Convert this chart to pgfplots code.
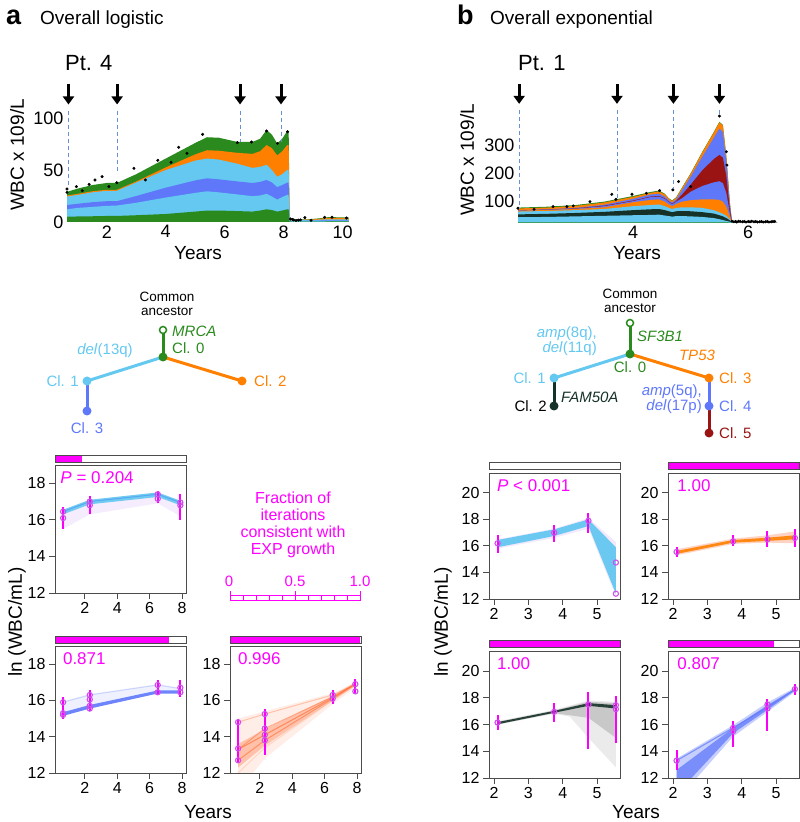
\documentclass[border=0pt]{standalone}
\usepackage{fontspec}
\setmainfont{Liberation Sans}
\usepackage{pgfplots}
\pgfplotsset{compat=1.18}
\usepackage{pgfplotstable}
\usetikzlibrary{arrows.meta}

\definecolor{cgreen}{RGB}{42,138,30}
\definecolor{corange}{RGB}{255,128,0}
\definecolor{clblue}{RGB}{100,200,240}
\definecolor{cblue}{RGB}{95,120,250}
\definecolor{cred}{RGB}{155,20,20}
\definecolor{cdark}{RGB}{22,50,40}
\definecolor{cmag}{RGB}{255,0,255}
\definecolor{cdash}{RGB}{100,145,215}
\definecolor{cpurp}{RGB}{170,110,240}
\definecolor{corange2}{RGB}{255,110,55}
\definecolor{cmk}{RGB}{205,80,235}
\definecolor{ceb}{RGB}{250,0,250}

\newcommand{\fs}[1]{\fontsize{#1}{#1}\selectfont}

\pgfplotsset{
 topax/.style={scale only axis, axis line style={draw=none}, major tick length=0pt,
   tick style={draw=none}, clip mode=individual,
   ticklabel style={font=\fs{18}}, /pgf/number format/assume math mode=true},
 smallax/.style={scale only axis, width=131pt, clip mode=individual,
   axis line style={black!70, line width=0.9pt}, tick style={black!70, line width=0.9pt},
   tick align=outside, major tick length=6pt, xtick pos=left, ytick pos=left,
   ticklabel style={font=\fs{16}}, /pgf/number format/assume math mode=true, ymin=12},
 smallA/.style={smallax, xmin=0.15, xmax=8.25, ymax=19, ytick={12,14,16,18}, xtick={2,4,6,8}, height=127pt},
 smallB/.style={smallax, xmin=1.85, xmax=5.67, ymax=21.5, ytick={12,14,16,18,20}, xtick={2,3,4,5}, height=126pt},
}

\newcommand{\eb}[3]{\addplot[forget plot, color=ceb, line width=2pt, line cap=butt, mark=none] coordinates {(#1,#2)(#1,#3)};}
\newcommand{\pts}[1]{\addplot[forget plot, only marks, mark=o, mark size=2.6pt, draw=cmk, line width=1.1pt] coordinates {#1};}
\newcommand{\arrA}[2]{%
  \draw[cdash, line width=1pt, dash pattern=on 4pt off 3pt] (axis cs:#1,107) -- (axis cs:#1,#2);
  \draw[-{Triangle[width=11pt,length=8pt]}, line width=3pt] (axis cs:#1,133) -- (axis cs:#1,113);}
\newcommand{\arrB}[2]{%
  \draw[cdash, line width=1pt, dash pattern=on 4pt off 3pt] (axis cs:#1,424) -- (axis cs:#1,#2);
  \draw[-{Triangle[width=11pt,length=8pt]}, line width=3pt] (axis cs:#1,515) -- (axis cs:#1,445);}

\pgfplotstableread{
x T O L B Bb Gb
0.65 29 25.5 24.5 16.3 12.2 5.1
1.0 32 27 26 17.5 13.5 5.3
1.5 35.5 29.5 28.5 19 14.5 5.5
2.0 37.5 31 30 20 15.5 5.8
2.34 37.5 31 30 20 15.8 5.8
3.0 46 39 38 25 18.5 6.5
4.0 61 52.5 50 33 23.5 7.7
5.0 76 65 59 40 28 10
5.4 81.5 69 61 42 29.5 11
5.8 81 68.5 60 41 28.5 11
6.43 77 66.5 56 39 26.5 10.5
6.94 77 65.5 52 37.5 24.8 10
7.2 80 68 53 38.5 25.5 11
7.42 88.5 74 55 40.4 27 12.2
7.6 84 71 50 38 24.5 11.5
7.78 75.6 64 43.5 33.5 21.5 10
7.95 80 68 46 35.5 24 11
8.12 87.5 74 50 37.8 26 12.2
8.17 87.5 74 50 37.8 26 12.2
8.2 2.5 2 1.6 1.1 0.7 0.3
8.8 2.5 2.2 1.8 1.2 0.8 0.4
9.2 3.5 3 2.2 1.4 0.9 0.4
9.5 4.6 4 2.6 1.6 1.0 0.5
10.2 4.5 3.8 2.5 1.5 1.0 0.5
}\tabA

\pgfplotstableread{
x G O1 B1 R1 B2 O2 L1 K1 L2 G2
2.0 79 76 70 69.3 68.7 68 65 55 45 27
2.5 82 79 73 72 71.3 70.5 67 57 46 27
3.0 88 85 78 76.5 75.5 74 70 60 48 27
3.5 100 97 89 86 84 80 74 64 50 27
4.0 120 117 110 104 102 98 84 70 52 27
4.3 134 131 125 118 116 106 88 73 53 27
4.45 139 136 128 120 118 108 90 74 54 27
4.55 128 126 118 112 110 100 84 70 51 27
4.62 112 110 104 100 98 90 78 66 49 27
4.68 104 102 97 93 91 84 74 63 47 27
4.75 116 114 108 103 100 92 78 66 49 27
4.85 150 148 140 125 112 100 80 67 49 27
5.0 200 198 188 160 135 105 80 66 48 27
5.2 275 273 258 210 155 108 78 63 46 27
5.4 345 343 325 250 168 108 70 58 42 27
5.5 382 380 358 265 172 106 62 52 38 27
5.56 370 368 345 255 165 100 57 48 35 27
5.62 260 258 240 190 130 82 50 42 32 27
5.68 100 98 90 75 60 48 38 34 29 26
5.72 25 25 25 25 25 25 25 25 25 25
6.5 25 25 25 25 25 25 25 25 25 25
}\tabB

\begin{document}
\begin{tikzpicture}
\useasboundingbox (0pt,0pt) rectangle (800pt,822pt);

% ---------- titles ----------
\node[anchor=base west, font=\fs{27}\bfseries, inner sep=0] at (6pt,797pt) {a};
\node[anchor=base west, font=\fs{19}, inner sep=0] at (40pt,797pt) {Overall logistic};
\node[anchor=base west, font=\fs{27}\bfseries, inner sep=0] at (457pt,797pt) {b};
\node[anchor=base west, font=\fs{19}, inner sep=0] at (490pt,797pt) {Overall exponential};
\node[anchor=base west, font=\fs{22}, inner sep=0] at (65pt,751pt) {Pt. 4};
\node[anchor=base west, font=\fs{22}, inner sep=0] at (518pt,751pt) {Pt. 1};

% ---------- panel a top ----------
\begin{axis}[topax, at={(67pt,600pt)}, anchor=south west, width=283pt, height=104pt,
  xmin=0.65, xmax=10.25, ymin=0, ymax=100, ytick={0,50,100}, xtick={2,4,6,8,10}]
\addplot[fill=cgreen, draw=none] table[x=x,y=T]{\tabA} \closedcycle;
\addplot[fill=corange, draw=none] table[x=x,y=O]{\tabA} \closedcycle;
\addplot[fill=clblue, draw=none] table[x=x,y=L]{\tabA} \closedcycle;
\addplot[fill=cblue, draw=none] table[x=x,y=B]{\tabA} \closedcycle;
\addplot[fill=clblue, draw=none] table[x=x,y=Bb]{\tabA} \closedcycle;
\addplot[fill=cgreen, draw=none] table[x=x,y=Gb]{\tabA} \closedcycle;
\addplot[only marks, mark=*, mark size=1.3pt, black] coordinates {
(0.65,31.7)(0.65,28.5)(0.97,34)(1.17,30.1)(1.40,36.2)(1.60,40.4)(1.84,43.6)(2.07,34)(2.34,37.8)
(2.92,51.6)(3.31,40.4)(3.73,59.3)(4.18,57.4)(4.44,71.8)(4.72,66)(5.25,84.3)(6.43,76.3)(6.91,76.9)
(7.42,87.5)(7.79,75.6)(8.13,86.8)
(8.23,2.9)(8.30,2.5)(8.34,2)(8.42,1.4)(8.50,1.8)(8.57,2)(8.72,4.2)(8.93,1.6)(9.39,4.5)(9.64,4.5)(10.13,3.8)};
\arrA{0.70}{33}
\arrA{2.35}{47}
\arrA{6.52}{77}
\arrA{7.91}{77}
\end{axis}
\node[rotate=90, font=\fs{19}] at (17pt,667pt) {WBC x 109/L};
\node[font=\fs{19}] at (198pt,569pt) {Years};

% ---------- panel b top ----------
\begin{axis}[topax, at={(518pt,599.1pt)}, anchor=south west, width=259pt, height=109.1pt,
  xmin=2, xmax=6.5, ymin=25, ymax=410, ytick={100,200,300}, xtick={4,6}]
\addplot[fill=cgreen, draw=none] table[x=x,y=G]{\tabB} \closedcycle;
\addplot[fill=corange, draw=none] table[x=x,y=O1]{\tabB} \closedcycle;
\addplot[fill=cblue, draw=none] table[x=x,y=B1]{\tabB} \closedcycle;
\addplot[fill=cred, draw=none] table[x=x,y=R1]{\tabB} \closedcycle;
\addplot[fill=cblue, draw=none] table[x=x,y=B2]{\tabB} \closedcycle;
\addplot[fill=corange, draw=none] table[x=x,y=O2]{\tabB} \closedcycle;
\addplot[fill=clblue, draw=none] table[x=x,y=L1]{\tabB} \closedcycle;
\addplot[fill=cdark, draw=none] table[x=x,y=K1]{\tabB} \closedcycle;
\addplot[fill=clblue, draw=none] table[x=x,y=L2]{\tabB} \closedcycle;
\addplot[fill=cgreen, draw=none] table[x=x,y=G2]{\tabB} \closedcycle;
\addplot[only marks, mark=*, mark size=1.3pt, black] coordinates {
(2.0,76.6)(2.28,73)(2.61,82.5)(2.85,82.5)(2.96,85)(3.25,100)(3.63,126)(3.70,108)(3.98,126)
(4.23,129.6)(4.46,139)(4.69,141.5)(4.79,171)(5.0,153)(5.50,402)(5.62,276)(5.63,229)};
\addplot[black, line width=0.8pt, mark=*, mark size=1pt] coordinates {
(5.72,31)(5.75,29)(5.78,30)(5.8,28)(5.83,31)(5.86,30)(5.9,29)(5.93,30)(5.96,28)(6.0,30)(6.03,29)
(6.06,31)(6.1,29)(6.13,30)(6.16,28)(6.2,29)(6.23,30)(6.26,28)(6.3,29)(6.33,30)(6.36,28)(6.4,29)
(6.43,30)(6.46,30)};
\arrB{2.02}{78}
\arrB{3.72}{112}
\arrB{4.70}{143}
\arrB{5.50}{405}
\end{axis}
\node[rotate=90, font=\fs{19}] at (467pt,662pt) {WBC x 109/L};
\node[font=\fs{19}] at (637pt,569pt) {Years};

% ---------- tree a ----------
\node[font=\fs{13.5}, align=center, inner sep=0] at (167pt,518pt) {Common\\ancestor};
\draw[cgreen, line width=3pt] (163pt,492pt) -- (163pt,465pt);
\draw[clblue, line width=3pt] (163pt,465pt) -- (87pt,441pt);
\draw[cblue, line width=3pt] (87pt,441pt) -- (87pt,411pt);
\draw[corange, line width=3pt] (163pt,465pt) -- (242pt,441pt);
\draw[cgreen, line width=1.5pt, fill=white] (163pt,492pt) circle (3.5pt);
\fill[cgreen] (163pt,465pt) circle (4.5pt);
\fill[clblue] (87pt,441pt) circle (4.5pt);
\fill[cblue] (87pt,411pt) circle (4.5pt);
\fill[corange] (242pt,441pt) circle (4.5pt);
\node[anchor=west, cgreen, font=\fs{15}\itshape, inner sep=0] at (172pt,491pt) {MRCA};
\node[anchor=west, cgreen, font=\fs{15}, inner sep=0] at (172pt,474pt) {Cl. 0};
\node[clblue, font=\fs{15}, inner sep=0] at (105pt,471pt) {\textit{del}(13q)};
\node[anchor=east, clblue, font=\fs{15}, inner sep=0] at (79pt,441pt) {Cl. 1};
\node[cblue, font=\fs{15}, inner sep=0] at (87pt,394pt) {Cl. 3};
\node[anchor=west, corange, font=\fs{15}, inner sep=0] at (254pt,441pt) {Cl. 2};

% ---------- tree b ----------
\node[font=\fs{13.5}, align=center, inner sep=0] at (630pt,521pt) {Common\\ancestor};
\draw[cgreen, line width=3pt] (630pt,499pt) -- (630pt,468pt);
\draw[clblue, line width=3pt] (630pt,468pt) -- (554pt,444pt);
\draw[cdark, line width=3pt] (554pt,444pt) -- (554pt,416pt);
\draw[corange, line width=3pt] (630pt,468pt) -- (709pt,444pt);
\draw[cblue, line width=3pt] (709pt,444pt) -- (709pt,416pt);
\draw[cred, line width=3pt] (709pt,416pt) -- (709pt,389pt);
\draw[cgreen, line width=1.5pt, fill=white] (630pt,499pt) circle (3.5pt);
\fill[cgreen] (630pt,468pt) circle (4.5pt);
\fill[clblue] (554pt,444pt) circle (4.5pt);
\fill[cdark] (554pt,416pt) circle (4.5pt);
\fill[corange] (709pt,444pt) circle (4.5pt);
\fill[cblue] (709pt,416pt) circle (4.5pt);
\fill[cred] (709pt,389pt) circle (4.5pt);
\node[anchor=west, cgreen, font=\fs{15}\itshape, inner sep=0] at (637pt,486pt) {SF3B1};
\node[cgreen, font=\fs{15}, inner sep=0] at (630pt,455pt) {Cl. 0};
\node[anchor=base east, clblue, font=\fs{15}, inner sep=0] at (597pt,484pt) {\textit{amp}(8q),};
\node[anchor=base east, clblue, font=\fs{15}, inner sep=0] at (597pt,469pt) {\textit{del}(11q)};
\node[anchor=east, clblue, font=\fs{15}, inner sep=0] at (546pt,444pt) {Cl. 1};
\node[anchor=east, black, font=\fs{15}, inner sep=0] at (547pt,416pt) {Cl. 2};
\node[anchor=west, cdark, font=\fs{15}\itshape, inner sep=0] at (561pt,425pt) {FAM50A};
\node[corange, font=\fs{15}\itshape, inner sep=0] at (697pt,467pt) {TP53};
\node[anchor=west, corange, font=\fs{15}, inner sep=0] at (719pt,444pt) {Cl. 3};
\node[anchor=base east, cblue, font=\fs{15}, inner sep=0] at (702pt,426pt) {\textit{amp}(5q),};
\node[anchor=base east, cblue, font=\fs{15}, inner sep=0] at (702pt,411pt) {\textit{del}(17p)};
\node[anchor=west, cblue, font=\fs{15}, inner sep=0] at (719pt,416pt) {Cl. 4};
\node[anchor=west, cred, font=\fs{15}, inner sep=0] at (719pt,389pt) {Cl. 5};

% ---------- small plots a ----------
\begin{axis}[smallA, at={(55pt,229pt)}, anchor=south west, height=128pt]
\addplot[fill=cpurp, draw=none, opacity=0.12] coordinates {(0.65,16.55)(2.3,17.1)(6.5,17.5)(7.9,17.05)(7.9,16.2)(6.5,16.9)(2.3,16.3)(0.65,15.5)};
\addplot[fill=clblue, draw=none, opacity=0.9] coordinates {(0.65,16.55)(2.3,17.1)(6.5,17.5)(7.9,17.05)(7.9,16.8)(6.5,17.25)(2.3,16.85)(0.65,16.3)};
\addplot[clblue!85!blue, line width=1pt] coordinates {(0.65,16.45)(2.3,17.0)(6.5,17.4)(7.9,16.95)};
\eb{0.65}{15.5}{16.7}\eb{2.3}{16.3}{17.3}\eb{6.5}{16.9}{17.6}\eb{7.9}{16.0}{17.4}
\pts{(0.65,16.45)(0.65,16.1)(2.3,17.0)(2.3,16.8)(6.5,17.4)(6.5,17.15)(7.9,16.95)(7.9,16.8)}
\fill[cmag] ([yshift=3pt]rel axis cs:0,1) rectangle ([yshift=10pt]rel axis cs:0.204,1);
\draw[black!70, line width=0.8pt] ([yshift=3pt]rel axis cs:0,1) rectangle ([yshift=10pt]rel axis cs:1,1);
\node[anchor=west, cmag, font=\fs{17}, inner sep=0] at (rel axis cs:0.04,0.9) {\textit{P} = 0.204};
\end{axis}

\begin{axis}[smallA, at={(55pt,49pt)}, anchor=south west]
\addplot[fill=cblue, draw=none, opacity=0.1] coordinates {(0.65,15.95)(2.3,16.35)(6.5,16.9)(7.9,16.7)(7.9,16.4)(6.5,16.4)(2.3,15.55)(0.65,15.15)};
\addplot[cblue, opacity=0.25, line width=1pt] coordinates {(0.65,15.9)(2.3,16.3)(6.5,16.85)(7.9,16.65)};
\addplot[fill=cblue, draw=none, opacity=0.9] coordinates {(0.65,15.35)(2.3,15.75)(6.5,16.55)(7.9,16.55)(7.9,16.38)(6.5,16.38)(2.3,15.55)(0.65,15.15)};
\eb{0.65}{15.0}{16.2}\eb{2.3}{15.4}{16.6}\eb{6.5}{16.3}{17.1}\eb{7.9}{16.2}{17.1}
\pts{(0.65,15.9)(0.65,15.3)(0.65,15.2)(2.3,16.3)(2.3,16.05)(2.3,15.7)(2.3,15.55)(6.5,16.85)(6.5,16.45)(7.9,16.7)(7.9,16.45)}
\fill[cmag] ([yshift=3pt]rel axis cs:0,1) rectangle ([yshift=10pt]rel axis cs:0.871,1);
\draw[black!70, line width=0.8pt] ([yshift=3pt]rel axis cs:0,1) rectangle ([yshift=10pt]rel axis cs:1,1);
\node[anchor=west, cmag, font=\fs{17}, inner sep=0] at (rel axis cs:0.06,0.9) {0.871};
\end{axis}

\begin{axis}[smallA, at={(230pt,49pt)}, anchor=south west]
\addplot[fill=corange2, draw=none, opacity=0.12] coordinates {(0.65,15.0)(2.3,15.4)(6.5,16.4)(7.9,17.0)(7.9,16.7)(6.5,15.8)(2.3,12.8)(0.65,11.0)};
\addplot[fill=corange2, draw=none, opacity=0.35] coordinates {(0.65,13.6)(2.3,14.4)(6.5,16.25)(7.9,17.0)(7.9,16.8)(6.5,16.0)(2.3,13.5)(0.65,12.3)};
\addplot[corange2, opacity=0.7, line width=1pt] coordinates {(0.65,13.3)(2.3,14.1)(6.5,16.15)(7.9,16.9)};
\addplot[corange2, opacity=0.6, line width=1pt] coordinates {(0.65,12.7)(2.3,13.8)(6.5,16.1)(7.9,16.9)};
\addplot[corange2, opacity=0.35, line width=1pt] coordinates {(0.65,14.8)(2.3,15.25)(6.5,16.3)(7.9,16.9)};
\addplot[corange2, opacity=0.5, line width=1pt] coordinates {(0.65,13.3)(2.3,14.45)(6.5,16.2)(7.9,16.9)};
\addplot[corange2, opacity=0.2, line width=1pt] coordinates {(0.65,12.0)(2.3,13.4)(6.5,16.0)(7.9,16.85)};
\eb{0.65}{12.6}{15.0}\eb{2.3}{13.0}{15.5}\eb{6.5}{15.8}{16.6}\eb{7.9}{16.4}{17.2}
\pts{(0.65,14.8)(0.65,13.35)(0.65,12.7)(2.3,15.25)(2.3,14.45)(2.3,14.1)(2.3,13.8)(6.5,16.3)(6.5,16.1)(7.9,16.9)(7.9,16.5)}
\fill[cmag] ([yshift=3pt]rel axis cs:0,1) rectangle ([yshift=10pt]rel axis cs:0.996,1);
\draw[black!70, line width=0.8pt] ([yshift=3pt]rel axis cs:0,1) rectangle ([yshift=10pt]rel axis cs:1,1);
\node[anchor=west, cmag, font=\fs{17}, inner sep=0] at (rel axis cs:0.06,0.9) {0.996};
\end{axis}

\node[rotate=90, font=\fs{19}] at (17pt,200pt) {ln (WBC/mL)};
\node[font=\fs{19}] at (208pt,10pt) {Years};

% legend scale a
\node[cmag, font=\fs{16}, align=center] at (293pt,297pt) {Fraction of\\[1pt]iterations\\[1pt]consistent with\\[1pt]EXP growth};
\draw[cmag, line width=0.8pt] (230pt,222pt) rectangle (360pt,227pt);
\foreach \i in {1,...,9} \draw[cmag, line width=0.8pt] ({(230+13*\i)*1pt},222pt) -- ({(230+13*\i)*1pt},227pt);
\foreach \xx in {230,295,360} \draw[cmag, line width=0.8pt] ({\xx*1pt},222pt) -- ({\xx*1pt},231pt);
\node[cmag, font=\fs{15}] at (229pt,241pt) {0};
\node[cmag, font=\fs{15}] at (295pt,241pt) {0.5};
\node[cmag, font=\fs{15}] at (360pt,241pt) {1.0};

% ---------- small plots b ----------
\begin{axis}[smallB, at={(489pt,223pt)}, anchor=south west]
\addplot[fill=cpurp, draw=none, opacity=0.15] coordinates {(2.1,16.5)(3.75,17.3)(4.75,18.1)(5.55,16.3)(5.55,12.2)(4.75,17.3)(3.75,16.6)(2.1,15.8)};
\addplot[fill=clblue, draw=none, opacity=0.95] coordinates {(2.1,16.45)(3.75,17.25)(4.75,18.0)(5.55,15.9)(5.55,12.4)(4.75,17.5)(3.75,16.75)(2.1,15.9)};
\eb{2.1}{15.5}{16.8}\eb{3.75}{16.3}{17.6}\eb{4.75}{17.0}{18.5}
\pts{(2.1,16.2)(3.75,17.0)(4.75,17.9)(5.55,14.75)(5.55,12.4)}
\draw[black!70, line width=0.8pt, fill=white] ([yshift=4pt]rel axis cs:0,1) rectangle ([yshift=11pt]rel axis cs:1,1);
\node[anchor=west, cmag, font=\fs{17}, inner sep=0] at (rel axis cs:0.06,0.9) {\textit{P} < 0.001};
\end{axis}

\begin{axis}[smallB, at={(668pt,223pt)}, anchor=south west]
\addplot[fill=corange2, draw=none, opacity=0.3] coordinates {(2.1,15.75)(3.75,16.55)(4.75,16.8)(5.55,17.1)(5.55,16.2)(4.75,16.25)(3.75,16.15)(2.1,15.3)};
\addplot[fill=corange, draw=none, opacity=0.9] coordinates {(2.1,15.62)(3.75,16.45)(4.75,16.62)(5.55,16.8)(5.55,16.5)(4.75,16.38)(3.75,16.25)(2.1,15.4)};
\eb{2.1}{15.2}{15.9}\eb{3.75}{16.0}{16.8}\eb{4.75}{15.9}{17.1}\eb{5.55}{15.9}{17.3}
\pts{(2.1,15.55)(3.75,16.35)(4.75,16.5)(5.55,16.6)}
\fill[cmag] ([yshift=4pt]rel axis cs:0,1) rectangle ([yshift=11pt]rel axis cs:1,1);
\draw[black!70, line width=0.8pt] ([yshift=4pt]rel axis cs:0,1) rectangle ([yshift=11pt]rel axis cs:1,1);
\node[anchor=west, cmag, font=\fs{17}, inner sep=0] at (rel axis cs:0.07,0.9) {1.00};
\end{axis}

\begin{axis}[smallB, at={(489pt,44pt)}, anchor=south west, height=127pt]
\addplot[fill=black, draw=none, opacity=0.08] coordinates {(2.1,16.25)(3.75,17.1)(4.75,17.8)(5.55,17.7)(5.55,12.8)(4.75,15.0)(4.2,16.6)(3.75,16.8)(2.1,16.0)};
\addplot[fill=black, draw=none, opacity=0.15] coordinates {(2.1,16.2)(3.75,17.05)(4.75,17.7)(5.55,17.6)(5.55,15.0)(4.75,16.5)(3.75,16.85)(2.1,16.0)};
\addplot[fill=cdark, draw=none, opacity=0.9] coordinates {(2.1,16.18)(3.75,17.02)(4.75,17.6)(5.55,17.45)(5.55,17.2)(4.75,17.4)(3.75,16.88)(2.1,16.02)};
\eb{2.1}{15.6}{16.7}\eb{3.75}{16.2}{17.6}\eb{4.75}{14.2}{18.4}\eb{5.55}{14.6}{18.1}
\pts{(2.1,16.15)(3.75,16.95)(4.75,17.5)(5.55,17.45)(5.55,17.15)}
\fill[cmag] ([yshift=4pt]rel axis cs:0,1) rectangle ([yshift=11pt]rel axis cs:1,1);
\draw[black!70, line width=0.8pt] ([yshift=4pt]rel axis cs:0,1) rectangle ([yshift=11pt]rel axis cs:1,1);
\node[anchor=west, cmag, font=\fs{17}, inner sep=0] at (rel axis cs:0.06,0.9) {1.00};
\end{axis}

\begin{axis}[smallB, at={(668pt,44pt)}, anchor=south west, height=127pt]
\addplot[fill=cblue, draw=none, opacity=0.35] coordinates {(2.1,13.45)(3.75,15.95)(4.75,17.65)(5.55,18.75)(5.55,18.45)(4.75,16.95)(3.75,15.1)(2.1,10.3)};
\addplot[fill=cblue, draw=none, opacity=0.75] coordinates {(2.1,12.6)(3.75,15.75)(4.75,17.45)(5.55,18.68)(5.55,18.55)(4.75,17.1)(3.75,15.35)(2.1,10.8)};
\addplot[cblue, line width=1.2pt, opacity=0.7] coordinates {(2.1,13.3)(3.75,15.75)(4.75,17.3)(5.55,18.6)};
\eb{2.1}{12.6}{14.1}\eb{3.75}{14.3}{16.3}\eb{4.75}{15.5}{17.9}\eb{5.55}{18.2}{19.0}
\pts{(2.1,13.3)(3.75,15.75)(3.75,15.5)(4.75,17.5)(4.75,17.2)(5.55,18.65)}
\fill[cmag] ([yshift=4pt]rel axis cs:0,1) rectangle ([yshift=11pt]rel axis cs:0.807,1);
\draw[black!70, line width=0.8pt] ([yshift=4pt]rel axis cs:0,1) rectangle ([yshift=11pt]rel axis cs:1,1);
\node[anchor=west, cmag, font=\fs{17}, inner sep=0] at (rel axis cs:0.07,0.9) {0.807};
\end{axis}

\node[rotate=90, font=\fs{19}] at (443pt,200pt) {ln (WBC/mL)};
\node[font=\fs{19}] at (636pt,10pt) {Years};
\end{tikzpicture}
\end{document}
